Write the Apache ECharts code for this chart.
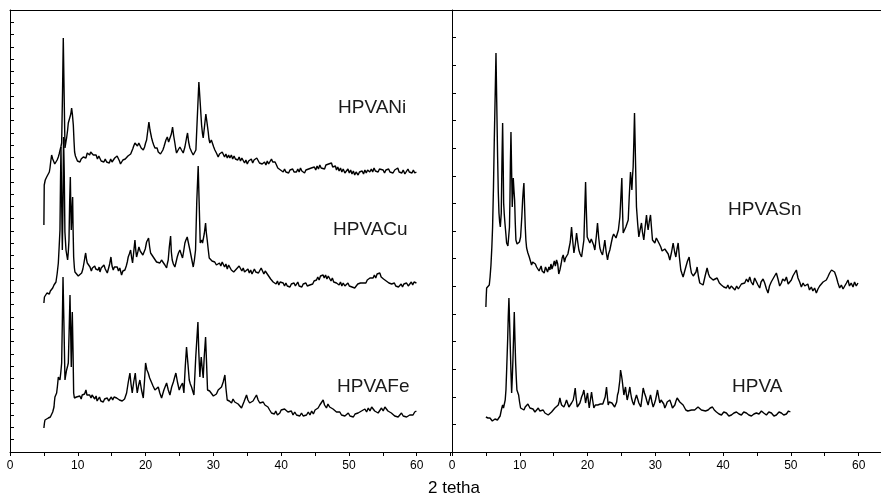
<!DOCTYPE html>
<html><head><meta charset="utf-8">
<script src="https://cdn.jsdelivr.net/npm/echarts@6/dist/echarts.min.js"></script>
<style>html,body{margin:0;padding:0;background:#fff}#c{width:881px;height:495px}</style>
</head><body><div id="c"></div>
<script>
// 2-theta ticks
const xTickLabels = [0,10,20,30,40,50,60];
const seriesNames = ['HPVANi','HPVACu','HPVAFe','HPVASn','HPVA'];
// intensities (arbitrary, stacked offsets as drawn)
const hpvaNi = [[5.0,227],[5.05,267],[5.2,272],[5.41,275],[5.55,273],[5.65,277],[5.8,280],[5.9,284],[6.0,290],[6.14,297],[6.3,293],[6.49,292],[6.6,288],[6.78,289],[6.95,292],[7.13,295],[7.25,298],[7.37,300],[7.5,305],[7.62,309],[7.75,360],[7.86,414],[7.98,360],[8.11,304],[8.25,310],[8.35,314],[8.5,322],[8.6,329],[8.72,327],[8.85,330],[8.97,338],[9.09,344],[9.2,338],[9.34,327],[9.45,310],[9.53,300],[9.65,296],[9.83,295],[9.95,291],[10.1,293],[10.32,290],[10.5,293],[10.65,291],[10.81,295],[11.0,297],[11.2,294],[11.4,299],[11.55,300],[11.75,297],[11.9,300],[12.1,298],[12.29,297],[12.5,295],[12.7,297],[12.9,293],[13.1,296],[13.27,294],[13.45,291],[13.65,293],[13.85,290],[14.05,293],[14.25,290],[14.45,292],[14.65,289],[14.85,293],[15.05,290],[15.23,292],[15.45,294],[15.65,292],[15.8,296],[15.97,295],[16.15,291],[16.3,288],[16.46,289],[16.65,292],[16.85,290],[17.0,293],[17.2,292],[17.4,296],[17.6,294],[17.8,298],[17.94,299],[18.1,303],[18.25,306],[18.43,309],[18.6,311],[18.8,306],[19.0,309],[19.16,307],[19.35,304],[19.5,306],[19.66,302],[19.85,305],[20.0,309],[20.15,312],[20.3,320],[20.49,330],[20.65,322],[20.89,314],[21.05,310],[21.2,307],[21.38,304],[21.55,302],[21.7,304],[21.87,300],[22.05,301],[22.2,298],[22.36,299],[22.55,302],[22.7,305],[22.85,307],[23.0,312],[23.2,315],[23.4,310],[23.59,312],[23.8,318],[23.98,325],[24.15,316],[24.32,309],[24.45,303],[24.57,299],[24.8,302],[25.06,305],[25.3,302],[25.55,299],[25.8,305],[26.04,314],[26.19,319],[26.35,310],[26.54,304],[26.8,300],[27.03,297],[27.2,299],[27.42,302],[27.6,330],[27.86,370],[28.05,350],[28.26,327],[28.4,318],[28.5,314],[28.7,326],[28.89,338],[29.05,330],[29.24,320],[29.35,313],[29.48,309],[29.7,312],[29.88,310],[30.05,305],[30.22,302],[30.45,299],[30.71,295],[30.9,298],[31.1,296],[31.3,300],[31.45,299],[31.65,295],[31.85,298],[32.05,294],[32.25,297],[32.43,294],[32.65,297],[32.85,293],[33.05,296],[33.25,293],[33.42,295],[33.6,292],[33.8,295],[34.0,291],[34.2,294],[34.4,292],[34.6,289],[34.8,292],[35.0,288],[35.2,291],[35.38,290],[35.6,293],[35.8,289],[36.0,292],[36.2,290],[36.4,294],[36.61,292],[36.8,289],[37.0,291],[37.2,288],[37.35,287],[37.55,290],[37.75,287],[37.95,291],[38.15,288],[38.35,290],[38.57,293],[38.75,290],[38.95,288],[39.1,290],[39.31,287],[39.5,284],[39.7,286],[39.9,282],[40.1,284],[40.3,280],[40.5,283],[40.7,280],[40.9,282],[41.1,279],[41.3,282],[41.5,280],[41.7,283],[41.9,280],[42.1,282],[42.26,280],[42.45,283],[42.65,280],[42.85,284],[43.05,281],[43.25,283],[43.45,279],[43.65,282],[43.85,280],[44.05,283],[44.25,281],[44.45,284],[44.72,282],[44.9,285],[45.1,282],[45.3,286],[45.5,283],[45.7,287],[45.9,284],[46.19,285],[46.4,283],[46.6,287],[46.8,285],[47.0,288],[47.2,286],[47.42,289],[47.6,285],[47.8,283],[48.0,286],[48.16,282],[48.35,285],[48.55,281],[48.75,284],[48.95,280],[49.15,283],[49.4,279],[49.63,280],[49.85,283],[50.05,279],[50.25,282],[50.45,278],[50.65,281],[50.85,277],[51.05,280],[51.35,277],[51.55,280],[51.75,278],[51.95,281],[52.15,278],[52.35,282],[52.55,279],[52.75,282],[53.07,280],[53.3,283],[53.5,280],[53.7,284],[53.9,281],[54.1,283],[54.3,280],[54.5,283],[54.75,281],[55.04,282],[55.25,279],[55.45,282],[55.65,280],[55.85,283],[56.05,280],[56.3,282],[56.5,279],[56.75,282],[57.0,281],[57.2,284],[57.4,280],[57.6,282],[57.8,279],[58.0,282],[58.25,278],[58.48,279],[58.7,283],[58.9,280],[59.1,282],[59.3,279],[59.5,282],[59.7,279],[59.95,280]];
const hpvaCu = [[5.0,149],[5.08,155],[5.16,157],[5.3,156],[5.45,159],[5.65,159],[5.8,158],[5.95,161],[6.14,160],[6.3,164],[6.49,167],[6.65,168],[6.78,170],[6.95,178],[7.13,189],[7.25,205],[7.37,222],[7.45,270],[7.52,305],[7.6,260],[7.72,202],[7.8,240],[7.9,315],[8.0,280],[8.1,220],[8.26,202],[8.4,196],[8.5,192],[8.6,200],[8.7,212],[8.8,250],[8.9,275],[8.97,245],[9.04,222],[9.14,240],[9.24,255],[9.3,225],[9.39,195],[9.5,184],[9.58,180],[9.8,178],[10.07,176],[10.3,178],[10.57,179],[10.75,183],[10.91,189],[11.05,195],[11.16,199],[11.3,192],[11.4,189],[11.6,187],[11.8,185],[12.0,181],[12.15,184],[12.29,182],[12.5,186],[12.65,183],[12.78,185],[13.0,182],[13.15,185],[13.27,180],[13.45,184],[13.6,182],[13.86,187],[14.05,183],[14.2,181],[14.35,179],[14.55,184],[14.7,188],[14.89,195],[15.05,186],[15.23,182],[15.4,185],[15.6,183],[15.82,185],[16.0,181],[16.2,184],[16.46,177],[16.65,181],[16.8,180],[16.95,182],[17.15,186],[17.3,190],[17.44,195],[17.6,198],[17.79,202],[17.95,194],[18.08,189],[18.25,200],[18.43,212],[18.55,202],[18.67,195],[18.85,200],[19.02,205],[19.2,201],[19.41,199],[19.6,197],[19.76,195],[19.95,203],[20.15,210],[20.3,212],[20.44,214],[20.6,205],[20.74,199],[20.95,197],[21.13,195],[21.35,193],[21.62,190],[21.85,192],[22.11,189],[22.35,192],[22.6,190],[22.85,187],[23.1,184],[23.2,188],[23.34,192],[23.5,205],[23.69,216],[23.8,200],[23.93,192],[24.1,188],[24.32,185],[24.5,190],[24.67,195],[24.85,199],[25.06,202],[25.25,198],[25.45,194],[25.6,200],[25.8,209],[25.95,212],[26.14,215],[26.35,208],[26.54,202],[26.8,193],[27.03,185],[27.2,192],[27.37,202],[27.55,250],[27.76,286],[27.9,250],[28.06,209],[28.2,210],[28.31,212],[28.4,209],[28.5,207],[28.65,218],[28.85,229],[28.95,220],[29.09,212],[29.25,202],[29.39,194],[29.6,196],[29.8,191],[29.98,192],[30.2,190],[30.45,187],[30.71,185],[30.9,189],[31.1,186],[31.3,190],[31.45,189],[31.65,185],[31.85,188],[32.05,183],[32.25,187],[32.43,185],[32.65,182],[32.85,184],[33.0,180],[33.17,179],[33.4,183],[33.6,181],[33.8,186],[34.0,185],[34.2,181],[34.4,184],[34.6,180],[34.89,180],[35.1,183],[35.3,179],[35.5,182],[35.7,178],[35.87,179],[36.05,183],[36.25,180],[36.45,182],[36.65,179],[36.85,180],[37.05,184],[37.25,181],[37.45,178],[37.65,181],[37.84,179],[38.05,177],[38.25,175],[38.45,173],[38.65,171],[38.82,170],[39.05,172],[39.25,168],[39.45,171],[39.65,167],[39.85,170],[40.05,168],[40.3,169],[40.5,166],[40.7,169],[40.9,166],[41.1,168],[41.3,165],[41.5,168],[41.7,166],[41.9,169],[42.1,166],[42.26,167],[42.45,170],[42.65,166],[42.85,168],[43.05,165],[43.25,168],[43.45,166],[43.65,169],[43.85,166],[44.05,168],[44.23,167],[44.45,169],[44.65,168],[44.85,171],[45.05,170],[45.21,172],[45.4,175],[45.6,172],[45.8,176],[46.0,174],[46.19,177],[46.35,174],[46.55,177],[46.75,173],[46.95,176],[47.17,174],[47.35,171],[47.55,174],[47.75,170],[47.95,172],[48.16,169],[48.35,171],[48.55,167],[48.75,170],[48.95,166],[49.15,169],[49.4,166],[49.63,167],[49.85,169],[50.05,166],[50.25,168],[50.45,165],[50.65,167],[50.85,164],[51.11,165],[51.3,168],[51.5,166],[51.7,169],[51.9,167],[52.09,169],[52.3,171],[52.5,169],[52.7,172],[52.9,171],[53.1,174],[53.3,172],[53.56,174],[53.75,177],[53.95,174],[54.15,178],[54.35,176],[54.55,179],[54.75,175],[54.95,177],[55.1,173],[55.28,174],[55.5,171],[55.7,173],[55.9,169],[56.1,171],[56.3,168],[56.51,167],[56.7,169],[56.9,166],[57.1,168],[57.3,165],[57.5,165],[57.7,168],[57.9,165],[58.1,168],[58.3,166],[58.5,169],[58.75,166],[58.97,167],[59.2,170],[59.4,167],[59.6,170],[59.8,168],[59.95,169]];
const hpvaFe = [[5.0,24],[5.08,29],[5.16,32],[5.3,33],[5.45,32],[5.65,34],[5.8,33],[5.95,35],[6.14,37],[6.3,40],[6.49,45],[6.55,50],[6.63,55],[6.75,57],[6.88,59],[7.0,66],[7.13,75],[7.25,73],[7.37,72],[7.5,80],[7.62,89],[7.72,130],[7.82,175],[7.95,130],[8.11,72],[8.2,76],[8.35,82],[8.5,86],[8.6,89],[8.72,120],[8.85,157],[8.95,120],[9.04,85],[9.1,110],[9.19,140],[9.3,100],[9.39,59],[9.5,54],[9.58,52],[9.8,55],[10.07,54],[10.3,56],[10.5,53],[10.65,57],[10.81,55],[11.0,58],[11.2,62],[11.35,57],[11.55,55],[11.75,57],[11.95,54],[12.1,57],[12.29,55],[12.5,53],[12.7,56],[12.85,51],[13.02,52],[13.2,55],[13.4,51],[13.6,53],[13.76,50],[13.95,53],[14.15,51],[14.35,54],[14.55,51],[14.74,52],[14.95,55],[15.15,52],[15.35,55],[15.55,53],[15.73,54],[15.95,56],[16.15,52],[16.35,54],[16.55,51],[16.71,50],[16.9,53],[17.05,56],[17.2,59],[17.45,70],[17.69,79],[17.85,68],[18.03,59],[18.25,70],[18.48,79],[18.62,68],[18.77,59],[18.95,66],[19.16,72],[19.4,62],[19.66,54],[19.85,72],[20.0,89],[20.2,82],[20.39,79],[20.6,74],[20.89,72],[21.1,66],[21.38,62],[21.6,64],[21.87,65],[22.1,59],[22.36,54],[22.7,62],[23.1,69],[23.35,62],[23.59,57],[23.85,65],[24.1,70],[24.3,75],[24.47,79],[24.7,70],[24.96,62],[25.2,66],[25.45,69],[25.55,64],[25.65,59],[25.85,85],[26.04,105],[26.25,88],[26.44,72],[26.6,68],[26.78,65],[26.95,61],[27.13,57],[27.4,95],[27.72,130],[27.85,100],[28.01,75],[28.1,86],[28.21,95],[28.35,84],[28.5,74],[28.65,95],[28.85,115],[29.0,88],[29.14,62],[29.45,61],[29.73,59],[30.0,56],[30.22,54],[30.45,58],[30.71,62],[30.95,60],[31.2,65],[31.45,70],[31.7,77],[31.85,64],[32.04,52],[32.35,51],[32.68,49],[32.9,53],[33.15,50],[33.42,52],[33.65,48],[33.9,47],[34.15,44],[34.5,50],[34.89,57],[35.1,52],[35.35,49],[35.63,47],[35.85,51],[36.1,54],[36.36,57],[36.6,52],[36.85,49],[37.1,47],[37.35,50],[37.6,47],[37.84,49],[38.05,45],[38.3,42],[38.57,39],[38.8,41],[39.0,38],[39.2,41],[39.45,37],[39.8,39],[40.0,42],[40.2,40],[40.5,43],[40.78,44],[41.0,40],[41.25,38],[41.5,41],[41.75,37],[42.0,40],[42.26,37],[42.5,39],[42.75,36],[43.0,39],[43.25,36],[43.5,38],[43.74,37],[44.0,40],[44.25,37],[44.5,41],[44.75,38],[45.0,42],[45.21,40],[45.45,44],[45.7,47],[45.95,49],[46.19,52],[46.4,47],[46.68,44],[46.9,48],[47.15,45],[47.42,47],[47.65,43],[47.9,41],[48.16,40],[48.4,38],[48.65,40],[48.9,37],[49.15,39],[49.4,36],[49.63,37],[49.9,39],[50.15,36],[50.4,38],[50.65,35],[50.9,38],[51.11,37],[51.35,39],[51.6,37],[51.85,41],[52.09,40],[52.35,43],[52.6,40],[52.85,44],[53.1,41],[53.35,45],[53.56,44],[53.8,41],[54.05,43],[54.3,39],[54.55,40],[54.8,44],[55.05,41],[55.3,45],[55.53,44],[55.75,41],[56.0,43],[56.25,39],[56.51,39],[56.75,36],[57.0,38],[57.25,35],[57.5,36],[57.75,39],[58.0,36],[58.25,38],[58.5,35],[58.75,37],[58.97,37],[59.2,39],[59.45,37],[59.7,40],[59.95,41]];
const hpvaSn = [[5.0,145],[5.05,155],[5.11,164],[5.3,166],[5.5,167],[5.62,175],[5.75,187],[5.88,205],[5.99,225],[6.12,265],[6.24,312],[6.38,360],[6.49,399],[6.6,350],[6.73,295],[6.83,260],[6.93,239],[7.03,230],[7.13,225],[7.2,232],[7.27,239],[7.37,290],[7.47,329],[7.55,290],[7.62,249],[7.71,238],[7.81,229],[7.95,218],[8.06,209],[8.25,206],[8.4,205],[8.48,225],[8.55,252],[8.62,290],[8.7,320],[8.8,280],[8.89,245],[8.97,260],[9.04,274],[9.14,262],[9.24,252],[9.33,230],[9.43,212],[9.6,208],[9.78,207],[9.95,210],[10.12,215],[10.3,235],[10.42,252],[10.52,262],[10.61,269],[10.7,248],[10.81,225],[10.9,212],[11.01,204],[11.2,199],[11.4,195],[11.57,191],[11.74,187],[11.9,190],[12.09,192],[12.3,188],[12.48,185],[12.7,186],[12.85,181],[12.97,182],[13.15,186],[13.3,181],[13.46,182],[13.6,179],[13.8,185],[13.96,184],[14.1,180],[14.3,185],[14.45,182],[14.6,188],[14.75,183],[14.94,187],[15.1,191],[15.25,186],[15.43,192],[15.6,188],[15.75,178],[15.92,182],[16.1,188],[16.25,194],[16.41,197],[16.6,190],[16.75,194],[16.9,192],[17.1,198],[17.3,199],[17.45,210],[17.64,225],[17.8,212],[17.99,199],[18.2,208],[18.38,219],[18.55,210],[18.72,202],[18.9,198],[19.12,195],[19.3,204],[19.46,212],[19.58,240],[19.71,270],[19.82,242],[19.95,215],[20.15,212],[20.34,209],[20.55,213],[20.74,212],[20.9,207],[21.08,202],[21.3,216],[21.47,229],[21.65,214],[21.82,204],[22.0,200],[22.21,197],[22.4,205],[22.55,212],[22.75,200],[22.95,192],[23.1,198],[23.29,202],[23.5,209],[23.69,215],[23.85,218],[24.03,219],[24.2,214],[24.37,212],[24.55,222],[24.77,235],[24.92,255],[25.06,274],[25.15,245],[25.26,219],[25.45,222],[25.65,225],[25.8,228],[26.0,232],[26.15,255],[26.34,280],[26.45,270],[26.54,262],[26.63,275],[26.73,285],[26.83,310],[26.93,339],[27.08,290],[27.22,245],[27.4,228],[27.57,215],[27.75,222],[27.96,229],[28.1,220],[28.3,212],[28.5,225],[28.7,237],[28.82,228],[28.94,222],[29.1,230],[29.29,237],[29.45,223],[29.58,212],[29.75,211],[29.93,209],[30.15,214],[30.42,212],[30.6,208],[30.81,205],[31.0,201],[31.16,199],[31.4,203],[31.65,205],[31.9,198],[32.14,192],[32.4,200],[32.63,209],[32.85,200],[33.03,195],[33.2,203],[33.37,209],[33.55,195],[33.76,182],[33.95,178],[34.1,175],[34.3,180],[34.5,185],[34.75,191],[34.99,195],[35.15,186],[35.33,179],[35.6,176],[35.82,174],[36.0,180],[36.17,185],[36.35,176],[36.56,169],[36.8,168],[37.05,167],[37.35,176],[37.64,184],[37.85,178],[38.03,175],[38.3,173],[38.53,172],[38.8,170],[39.12,174],[39.45,169],[39.75,167],[40.1,165],[40.49,164],[40.7,167],[40.95,163],[41.2,166],[41.48,164],[41.75,162],[42.0,166],[42.25,163],[42.46,165],[42.7,168],[42.95,166],[43.19,169],[43.45,173],[43.7,170],[43.93,175],[44.15,170],[44.42,167],[44.65,174],[44.91,172],[45.15,167],[45.4,164],[45.6,170],[45.9,173],[46.14,169],[46.4,163],[46.63,159],[46.85,166],[47.1,170],[47.37,172],[47.6,176],[47.86,179],[48.1,173],[48.35,166],[48.6,169],[48.8,173],[49.1,171],[49.34,175],[49.6,168],[49.85,170],[50.07,172],[50.3,176],[50.55,179],[50.81,182],[51.05,174],[51.3,170],[51.55,165],[51.8,169],[52.05,166],[52.28,164],[52.5,168],[52.75,162],[53.02,165],[53.25,161],[53.5,164],[53.76,159],[54.0,163],[54.25,166],[54.5,167],[54.75,170],[55.0,168],[55.23,172],[55.45,175],[55.72,179],[56.0,182],[56.22,184],[56.45,180],[56.71,175],[56.95,169],[57.2,164],[57.45,167],[57.7,163],[57.94,165],[58.2,169],[58.43,172],[58.65,166],[58.9,169],[59.17,165],[59.4,170],[59.65,166],[59.9,169]];
const hpva = [[5.0,35],[5.15,33],[5.3,34],[5.45,32],[5.6,34],[5.8,33],[5.95,31],[6.15,33],[6.34,33],[6.5,31],[6.7,32],[6.85,31],[6.98,32],[7.1,36],[7.22,40],[7.35,44],[7.47,47],[7.6,44],[7.72,45],[7.85,52],[7.96,62],[8.08,85],[8.21,112],[8.3,135],[8.4,154],[8.5,130],[8.6,105],[8.7,80],[8.8,59],[8.9,75],[8.99,92],[9.1,118],[9.19,140],[9.3,110],[9.39,89],[9.5,72],[9.58,62],[9.7,60],[9.83,57],[9.97,50],[10.12,44],[10.35,43],[10.62,42],[10.8,45],[11.01,44],[11.2,48],[11.35,47],[11.5,44],[11.65,42],[11.95,43],[12.24,40],[12.5,42],[12.73,44],[12.95,41],[13.22,40],[13.45,42],[13.71,39],[13.95,38],[14.2,37],[14.45,39],[14.69,40],[14.95,42],[15.18,44],[15.45,45],[15.68,47],[15.8,50],[15.92,54],[16.05,50],[16.17,47],[16.35,46],[16.51,45],[16.7,48],[16.9,52],[17.05,49],[17.25,45],[17.45,47],[17.64,49],[17.75,50],[17.89,52],[18.05,58],[18.18,64],[18.3,55],[18.48,45],[18.7,47],[18.87,49],[19.0,52],[19.12,55],[19.3,58],[19.46,62],[19.6,55],[19.71,49],[19.85,54],[20.0,59],[20.12,51],[20.25,44],[20.42,52],[20.59,60],[20.75,52],[20.93,44],[21.15,47],[21.33,49],[21.5,47],[21.72,45],[21.9,48],[22.06,50],[22.25,48],[22.41,47],[22.6,55],[22.8,65],[22.92,56],[23.05,47],[23.2,50],[23.39,52],[23.6,49],[23.78,47],[24.0,45],[24.18,44],[24.3,50],[24.42,57],[24.55,60],[24.67,62],[24.77,72],[24.87,82],[25.0,77],[25.11,72],[25.24,64],[25.36,57],[25.48,61],[25.6,65],[25.72,58],[25.85,52],[26.05,58],[26.24,65],[26.36,59],[26.49,54],[26.65,50],[26.83,47],[27.0,52],[27.22,57],[27.4,53],[27.57,49],[27.7,47],[27.86,45],[28.05,55],[28.21,64],[28.4,59],[28.6,55],[28.75,51],[28.94,47],[29.1,52],[29.29,57],[29.5,50],[29.68,45],[29.85,48],[30.03,52],[30.18,57],[30.32,62],[30.5,55],[30.66,49],[30.85,52],[31.06,54],[31.25,48],[31.4,44],[31.6,47],[31.75,50],[31.95,51],[32.14,52],[32.35,48],[32.53,44],[32.7,46],[32.88,47],[33.05,51],[33.22,54],[33.4,52],[33.61,50],[33.85,49],[34.1,47],[34.3,45],[34.5,42],[34.8,41],[35.09,40],[35.35,42],[35.58,44],[35.8,42],[36.07,42],[36.3,45],[36.56,44],[36.8,42],[37.05,40],[37.4,41],[37.79,42],[38.1,44],[38.43,45],[38.7,42],[39.02,40],[39.4,38],[39.76,37],[40.1,40],[40.49,39],[40.85,36],[41.23,37],[41.6,39],[41.97,40],[42.35,38],[42.7,37],[43.05,40],[43.44,39],[43.8,37],[44.18,36],[44.55,38],[44.91,39],[45.3,38],[45.65,41],[46.0,39],[46.39,37],[46.75,40],[47.13,39],[47.5,36],[47.86,37],[48.25,40],[48.6,39],[48.95,37],[49.34,38],[49.65,41],[49.93,40]];

const chart = echarts.init(document.getElementById('c'), null, {renderer:'canvas'});
const FONT = 'Liberation Sans, Arial, sans-serif';
const axisLineStyle = {color:'#000', width:1};
function bottomX(grid, max){
  return {gridIndex:grid, type:'value', min:0, max:max, interval:5, position:'bottom',
    axisLine:{show:true, onZero:false, lineStyle:axisLineStyle},
    axisTick:{show:true, inside:false, length:4, lineStyle:axisLineStyle},
    axisLabel:{show:true, margin:8, color:'#000', fontSize:12, fontFamily:FONT, showMaxLabel:false,
      formatter: v => xTickLabels.indexOf(Math.round(v*1000)/1000) >= 0 ? String(v) : ''},
    splitLine:{show:false}};
}
function topX(grid, max){
  return {gridIndex:grid, type:'value', min:0, max:max, position:'top',
    axisLine:{show:true, onZero:false, lineStyle:axisLineStyle},
    axisTick:{show:false}, axisLabel:{show:false}, splitLine:{show:false}};
}
function leftY(grid, intervals){
  return {gridIndex:grid, type:'value', min:0, max:442, interval:442/intervals,
    axisLine:{show:true, onZero:false, lineStyle:axisLineStyle},
    axisTick:{show:true, inside:true, length:4, lineStyle:axisLineStyle},
    axisLabel:{show:false}, splitLine:{show:false}};
}
function line(name, data, idx){
  return {name, type:'line', data, xAxisIndex:idx, yAxisIndex:idx, showSymbol:false, symbol:'none',
    lineStyle:{color:'#000', width:1.4}, itemStyle:{color:'#000'}, silent:true, clip:true};
}
chart.setOption({
  animation:false,
  backgroundColor:'#fff',
  grid:[{left:10, top:10, width:442, height:442}, {left:452, top:10, width:429, height:442}],
  xAxis:[bottomX(0, 65.2), bottomX(1, 63.3), topX(0, 65.2), topX(1, 63.3)],
  yAxis:[leftY(0, 36), leftY(1, 16)],
  series:[
    line(seriesNames[0], hpvaNi, 0),
    line(seriesNames[1], hpvaCu, 0),
    line(seriesNames[2], hpvaFe, 0),
    line(seriesNames[3], hpvaSn, 1),
    line(seriesNames[4], hpva, 1)
  ],
  graphic:[
    {type:'text', left:338, top:98, style:{text:seriesNames[0], fill:'#1a1a1a', font:'19px ' + FONT}},
    {type:'text', left:333, top:220, style:{text:seriesNames[1], fill:'#1a1a1a', font:'19px ' + FONT}},
    {type:'text', left:337, top:377, style:{text:seriesNames[2], fill:'#1a1a1a', font:'19px ' + FONT}},
    {type:'text', left:728, top:200, style:{text:seriesNames[3], fill:'#1a1a1a', font:'19px ' + FONT}},
    {type:'text', left:732, top:377, style:{text:seriesNames[4], fill:'#1a1a1a', font:'19px ' + FONT}},
    {type:'text', left:428, top:480, style:{text:'2 tetha', fill:'#000', font:'17px ' + FONT}}
  ]
});
</script></body></html>
